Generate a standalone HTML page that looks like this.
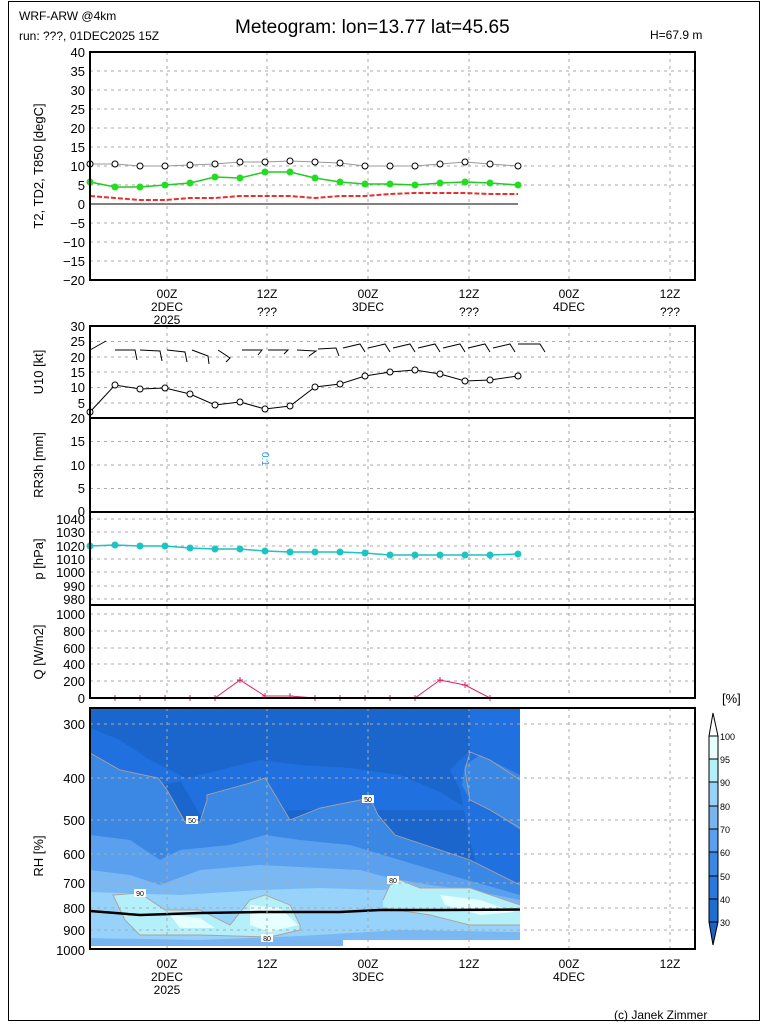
<!DOCTYPE html>
<html><head><meta charset="utf-8"><style>
html,body{margin:0;padding:0;background:#fff;}
svg{display:block;font-family:"Liberation Sans",sans-serif;}
</style></head><body>
<svg width="768" height="1024" viewBox="0 0 768 1024" xmlns="http://www.w3.org/2000/svg">
<rect x="0" y="0" width="768" height="1024" fill="#fff"/>
<rect x="8.5" y="1.5" width="751" height="1019" fill="none" stroke="#000" stroke-width="1"/>
<text x="19" y="20" font-size="12">WRF-ARW @4km</text>
<text x="19" y="40" font-size="12">run: ???, 01DEC2025 15Z</text>
<text x="235" y="33" font-size="19">Meteogram: lon=13.77 lat=45.65</text>
<text x="650" y="39" font-size="12">H=67.9 m</text>

<g stroke="#aaa" stroke-dasharray="3,4" stroke-width="1">
<line x1="167" y1="52" x2="167" y2="280"/><line x1="267" y1="52" x2="267" y2="280"/><line x1="368" y1="52" x2="368" y2="280"/><line x1="469" y1="52" x2="469" y2="280"/><line x1="569" y1="52" x2="569" y2="280"/><line x1="670" y1="52" x2="670" y2="280"/>
<line x1="167" y1="326" x2="167" y2="698"/><line x1="267" y1="326" x2="267" y2="698"/><line x1="368" y1="326" x2="368" y2="698"/><line x1="469" y1="326" x2="469" y2="698"/><line x1="569" y1="326" x2="569" y2="698"/><line x1="670" y1="326" x2="670" y2="698"/>
<line x1="90" y1="71" x2="695" y2="71"/><line x1="90" y1="90" x2="695" y2="90"/><line x1="90" y1="109" x2="695" y2="109"/><line x1="90" y1="128" x2="695" y2="128"/><line x1="90" y1="147" x2="695" y2="147"/><line x1="90" y1="166" x2="695" y2="166"/><line x1="90" y1="185" x2="695" y2="185"/><line x1="90" y1="223" x2="695" y2="223"/><line x1="90" y1="242" x2="695" y2="242"/><line x1="90" y1="261" x2="695" y2="261"/>
<line x1="90" y1="341.5" x2="695" y2="341.5"/><line x1="90" y1="357" x2="695" y2="357"/><line x1="90" y1="372" x2="695" y2="372"/><line x1="90" y1="387.5" x2="695" y2="387.5"/><line x1="90" y1="403" x2="695" y2="403"/>
<line x1="90" y1="441.5" x2="695" y2="441.5"/><line x1="90" y1="465" x2="695" y2="465"/><line x1="90" y1="488.5" x2="695" y2="488.5"/>
<line x1="90" y1="519" x2="695" y2="519"/><line x1="90" y1="532" x2="695" y2="532"/><line x1="90" y1="546" x2="695" y2="546"/><line x1="90" y1="559" x2="695" y2="559"/><line x1="90" y1="572" x2="695" y2="572"/><line x1="90" y1="586" x2="695" y2="586"/><line x1="90" y1="599" x2="695" y2="599"/>
<line x1="90" y1="614" x2="695" y2="614"/><line x1="90" y1="631" x2="695" y2="631"/><line x1="90" y1="648" x2="695" y2="648"/><line x1="90" y1="664" x2="695" y2="664"/><line x1="90" y1="681" x2="695" y2="681"/>
</g>

<line x1="90" y1="204" x2="518" y2="204" stroke="#000" stroke-width="1"/>
<polyline fill="none" stroke="#e83030" stroke-width="2" stroke-dasharray="5,2" points="90,196 115,198 140,200 165,200 190,198 215,198 240,196 265,196 290,196 315,198 340,196 365,196 390,194 415,193 440,193 465,193 490,194 518,194"/>
<polyline fill="none" stroke="#999" stroke-width="1" points="90,164 115,164 140,166 165,166 190,165 215,164 240,162 265,162 290,161 315,162 340,163 365,166 390,166 415,166 440,164 465,162 490,164 518,166"/>
<g fill="#fff" stroke="#000" stroke-width="1">
<circle cx="90" cy="164" r="3"/><circle cx="115" cy="164" r="3"/><circle cx="140" cy="166" r="3"/><circle cx="165" cy="166" r="3"/><circle cx="190" cy="165" r="3"/><circle cx="215" cy="164" r="3"/><circle cx="240" cy="162" r="3"/><circle cx="265" cy="162" r="3"/><circle cx="290" cy="161" r="3"/><circle cx="315" cy="162" r="3"/><circle cx="340" cy="163" r="3"/><circle cx="365" cy="166" r="3"/><circle cx="390" cy="166" r="3"/><circle cx="415" cy="166" r="3"/><circle cx="440" cy="164" r="3"/><circle cx="465" cy="162" r="3"/><circle cx="490" cy="164" r="3"/><circle cx="518" cy="166" r="3"/>
</g>
<polyline fill="none" stroke="#22cc22" stroke-width="1.5" points="90,182 115,187 140,187 165,185 190,183 215,177 240,178 265,172 290,172 315,178 340,182 365,184 390,184 415,185 440,183 465,182 490,183 518,185"/>
<g fill="#22dd22">
<circle cx="90" cy="182" r="3.5"/><circle cx="115" cy="187" r="3.5"/><circle cx="140" cy="187" r="3.5"/><circle cx="165" cy="185" r="3.5"/><circle cx="190" cy="183" r="3.5"/><circle cx="215" cy="177" r="3.5"/><circle cx="240" cy="178" r="3.5"/><circle cx="265" cy="172" r="3.5"/><circle cx="290" cy="172" r="3.5"/><circle cx="315" cy="178" r="3.5"/><circle cx="340" cy="182" r="3.5"/><circle cx="365" cy="184" r="3.5"/><circle cx="390" cy="184" r="3.5"/><circle cx="415" cy="185" r="3.5"/><circle cx="440" cy="183" r="3.5"/><circle cx="465" cy="182" r="3.5"/><circle cx="490" cy="183" r="3.5"/><circle cx="518" cy="185" r="3.5"/>
</g>
<rect x="90" y="52" width="605" height="228" fill="none" stroke="#000" stroke-width="2"/>
<g font-size="13" text-anchor="end">
<text x="85" y="57">40</text><text x="85" y="76">35</text><text x="85" y="95">30</text><text x="85" y="114">25</text><text x="85" y="133">20</text><text x="85" y="152">15</text><text x="85" y="171">10</text><text x="85" y="190">5</text><text x="85" y="209">0</text><text x="85" y="228">−5</text><text x="85" y="247">−10</text><text x="85" y="266">−15</text><text x="85" y="285">−20</text>
</g>
<text transform="translate(43,166) rotate(-90)" font-size="13" text-anchor="middle">T2, TD2, T850 [degC]</text>
<g font-size="12" text-anchor="middle">
<text x="167" y="298">00Z</text><text x="167" y="311">2DEC</text><text x="167" y="324">2025</text>
<text x="267" y="298">12Z</text><text x="267" y="316">???</text>
<text x="368" y="298">00Z</text><text x="368" y="311">3DEC</text>
<text x="469" y="298">12Z</text><text x="469" y="316">???</text>
<text x="569" y="298">00Z</text><text x="569" y="311">4DEC</text>
<text x="670" y="298">12Z</text><text x="670" y="316">???</text>
</g>

<g stroke="#000" stroke-width="1" fill="none">
<polyline points="90,350 106,341"/>
<polyline points="115,350 135,350 137,360"/><polyline points="140,350 160,351 162,361"/><polyline points="167,350 185,352 187,362"/><polyline points="192,350 208,356 209,364"/><polyline points="218,350 230,358 226,362"/>
<polyline points="242,350 262,350 258,355"/><polyline points="268,350 288,350 284,354"/><polyline points="297,350 316,351 309,356"/><polyline points="318,349 336,348 339,356"/><polyline points="343,348 360,344 365,352"/><polyline points="368,348 385,344 390,352"/><polyline points="393,348 410,344 415,352"/><polyline points="418,348 435,344 440,352"/><polyline points="443,348 460,344 465,352"/><polyline points="468,348 485,344 490,352"/><polyline points="493,348 510,344 515,352"/><polyline points="518,344 540,344 545,352"/>
</g>
<polyline fill="none" stroke="#000" stroke-width="1" points="90,412 115,385 140,389 165,388 190,394 215,405 240,402 265,409 290,406 315,387 340,384 365,376 390,372 415,370 440,374 465,381 490,380 518,376"/>
<g fill="#fff" stroke="#000" stroke-width="1">
<circle cx="90" cy="412" r="3"/><circle cx="115" cy="385" r="3"/><circle cx="140" cy="389" r="3"/><circle cx="165" cy="388" r="3"/><circle cx="190" cy="394" r="3"/><circle cx="215" cy="405" r="3"/><circle cx="240" cy="402" r="3"/><circle cx="265" cy="409" r="3"/><circle cx="290" cy="406" r="3"/><circle cx="315" cy="387" r="3"/><circle cx="340" cy="384" r="3"/><circle cx="365" cy="376" r="3"/><circle cx="390" cy="372" r="3"/><circle cx="415" cy="370" r="3"/><circle cx="440" cy="374" r="3"/><circle cx="465" cy="381" r="3"/><circle cx="490" cy="380" r="3"/><circle cx="518" cy="376" r="3"/>
</g>
<rect x="90" y="326" width="605" height="92" fill="none" stroke="#000" stroke-width="2"/>
<g font-size="13" text-anchor="end">
<text x="85" y="331">30</text><text x="85" y="346">25</text><text x="85" y="362">20</text><text x="85" y="377">15</text><text x="85" y="392">10</text><text x="85" y="408">5</text>
</g>
<text transform="translate(43,372) rotate(-90)" font-size="13" text-anchor="middle">U10 [kt]</text>

<rect x="90" y="418" width="605" height="94" fill="none" stroke="#000" stroke-width="2"/>
<g font-size="13" text-anchor="end">
<text x="85" y="423">20</text><text x="85" y="446">15</text><text x="85" y="470">10</text><text x="85" y="493">5</text><text x="85" y="516">0</text>
</g>
<text transform="translate(43,465) rotate(-90)" font-size="13" text-anchor="middle">RR3h [mm]</text>
<text transform="translate(262,452) rotate(90)" font-size="10" fill="#2a9ae6">0.1</text>

<polyline fill="none" stroke="#1cc4c4" stroke-width="1.5" points="90,546 115,545 140,546 165,546 190,548 215,549 240,549 265,551 290,552 315,552 340,552 365,553 390,555 415,555 440,555 465,555 490,555 518,554"/>
<g fill="#1cc4c4">
<circle cx="90" cy="546" r="3.5"/><circle cx="115" cy="545" r="3.5"/><circle cx="140" cy="546" r="3.5"/><circle cx="165" cy="546" r="3.5"/><circle cx="190" cy="548" r="3.5"/><circle cx="215" cy="549" r="3.5"/><circle cx="240" cy="549" r="3.5"/><circle cx="265" cy="551" r="3.5"/><circle cx="290" cy="552" r="3.5"/><circle cx="315" cy="552" r="3.5"/><circle cx="340" cy="552" r="3.5"/><circle cx="365" cy="553" r="3.5"/><circle cx="390" cy="555" r="3.5"/><circle cx="415" cy="555" r="3.5"/><circle cx="440" cy="555" r="3.5"/><circle cx="465" cy="555" r="3.5"/><circle cx="490" cy="555" r="3.5"/><circle cx="518" cy="554" r="3.5"/>
</g>
<rect x="90" y="512" width="605" height="93" fill="none" stroke="#000" stroke-width="2"/>
<g font-size="13" text-anchor="end">
<text x="85" y="524">1040</text><text x="85" y="537">1030</text><text x="85" y="551">1020</text><text x="85" y="564">1010</text><text x="85" y="577">1000</text><text x="85" y="591">990</text><text x="85" y="604">980</text>
</g>
<text transform="translate(43,559) rotate(-90)" font-size="13" text-anchor="middle">p [hPa]</text>

<polyline fill="none" stroke="#e0206a" stroke-width="1" points="90,698 115,698 140,698 165,698 190,698 215,698 240,680 265,696 290,696 315,698 340,698 365,698 390,698 415,698 440,680 465,685 490,698 518,698"/>
<g stroke="#e0206a" stroke-width="1">
<path d="M237,680h6M240,677v6M437,680h6M440,677v6M462,685h6M465,682v6M262,696h6M265,693v6M287,696h6M290,693v6M112,698h6M115,695v6M137,698h6M140,695v6M162,698h6M165,695v6M187,698h6M190,695v6M212,698h6M215,695v6M312,698h6M315,695v6M337,698h6M340,695v6M362,698h6M365,695v6M387,698h6M390,695v6M412,698h6M415,695v6M487,698h6M490,695v6"/>
</g>
<rect x="90" y="605" width="605" height="93" fill="none" stroke="#000" stroke-width="2"/>
<g font-size="13" text-anchor="end">
<text x="85" y="619">1000</text><text x="85" y="636">800</text><text x="85" y="653">600</text><text x="85" y="669">400</text><text x="85" y="686">200</text><text x="85" y="703">0</text>
</g>
<text transform="translate(43,652) rotate(-90)" font-size="13" text-anchor="middle">Q [W/m2]</text>

<!-- RH -->
<rect x="90" y="708" width="430" height="232" fill="#1a66cc"/>
<rect x="90" y="940" width="253" height="6" fill="#78b4f0"/>
<path d="M90,735 L140,745 L190,765 L200,778 L260,770 L290,760 L330,762 L380,770 L420,778 L450,790 L470,800 L440,790 L400,785 L360,780 L300,770 L270,770 L200,790 L190,790 Z" fill="#2070e0" opacity="0"/>
<path d="M90,728 L120,740 L150,760 L180,775 L190,780 L160,785 L90,790 Z" fill="#2070e0"/>
<path d="M180,780 L260,760 L300,765 L350,768 L400,775 L440,792 L470,810 L400,810 L300,810 L200,815 Z" fill="#2070e0"/>
<path d="M470,708 L520,708 L520,900 L480,880 L470,840 L460,790 L450,770 L470,750 Z" fill="#2070e0"/>
<path d="M90,753 L120,770 L158,778 L167,790 L185,822 L200,822 L207,800 L207,795 L250,783 L265,778 L290,820 L320,808 L370,798 L378,815 L395,835 L440,850 L470,860 L520,885 L520,940 L90,940 Z" fill="#3a88e4"/>
<path d="M465,765 L480,755 L520,775 L520,830 L490,810 L470,800 L462,785 Z" fill="#3a88e4"/>
<path d="M90,835 L130,840 L160,860 L180,850 L230,845 L265,835 L300,840 L350,845 L400,860 L450,875 L520,895 L520,940 L90,940 Z" fill="#5aa0ee"/>
<path d="M90,870 L130,875 L160,885 L200,870 L260,865 L320,868 L360,870 L390,878 L430,885 L470,890 L520,900 L520,940 L90,940 Z" fill="#7ab8f4"/>
<path d="M90,892 L180,895 L260,890 L320,888 L380,890 L420,888 L470,895 L520,905 L520,932 L400,930 L300,936 L200,940 L90,938 Z" fill="#96d2fa"/>
<path d="M113,895 L140,893 L150,900 L165,910 L200,910 L230,925 L250,900 L265,895 L290,905 L300,925 L300,930 L270,937 L200,935 L140,935 L125,920 Z" fill="#b4f0fa"/>
<path d="M383,900 L390,885 L400,880 L420,888 L470,888 L520,905 L520,925 L470,925 L430,915 L383,908 Z" fill="#b4f0fa"/>
<path d="M170,915 L200,918 L215,928 L180,928 Z M250,905 L280,908 L298,925 L270,932 L250,925 Z M440,895 L480,900 L515,912 L480,915 L445,905 Z" fill="#e6ffff"/>
<g fill="none" stroke="#b0a098" stroke-width="0.9">
<path d="M90,753 L120,770 L158,778 L167,790 L185,822 L200,822 L207,800 L207,795 L250,783 L265,778 L290,820 L320,808 L370,798 L378,815 L395,835 L440,850 L470,860 L520,885"/>
<path d="M520,780 L490,760 L470,752 L465,770 L470,800 L490,810 L520,828"/>
<path d="M113,895 L140,893 L150,900 L165,910 L200,910 L230,925 L250,900 L265,895 L290,905 L300,925 L300,930 L270,937 L200,935 L140,935 L125,920 Z"/>
<path d="M383,900 L390,885 L400,880 L420,888 L470,888 L520,905 M520,925 L470,925 L430,915 L383,908"/>
</g>
<polyline fill="none" stroke="#000" stroke-width="2.5" points="90,911 140,915 200,913 260,912 300,912 340,912 380,910 440,910 520,909.5"/>
<g font-size="7" text-anchor="middle">
<rect x="186" y="816" width="12" height="8" fill="#fff"/><text x="192" y="823">50</text>
<rect x="362" y="795" width="12" height="8" fill="#fff"/><text x="368" y="802">50</text>
<rect x="387" y="876" width="12" height="8" fill="#fff"/><text x="393" y="883">80</text>
<rect x="134" y="889" width="12" height="8" fill="#fff"/><text x="140" y="896">90</text>
<rect x="261" y="934" width="12" height="8" fill="#fff"/><text x="267" y="941">80</text>
</g>
<g stroke="#aaa" stroke-dasharray="3,4" stroke-width="1">
<line x1="167" y1="708" x2="167" y2="948"/><line x1="267" y1="708" x2="267" y2="948"/><line x1="368" y1="708" x2="368" y2="948"/><line x1="469" y1="708" x2="469" y2="948"/><line x1="569" y1="708" x2="569" y2="948"/><line x1="670" y1="708" x2="670" y2="948"/>
<line x1="90" y1="724" x2="695" y2="724"/><line x1="90" y1="778" x2="695" y2="778"/><line x1="90" y1="820" x2="695" y2="820"/><line x1="90" y1="854" x2="695" y2="854"/><line x1="90" y1="883" x2="695" y2="883"/><line x1="90" y1="908" x2="695" y2="908"/><line x1="90" y1="930" x2="695" y2="930"/>
</g>
<rect x="90" y="708" width="605" height="241" fill="none" stroke="#000" stroke-width="2"/>
<g font-size="13" text-anchor="end">
<text x="85" y="729">300</text><text x="85" y="783">400</text><text x="85" y="825">500</text><text x="85" y="859">600</text><text x="85" y="888">700</text><text x="85" y="913">800</text><text x="85" y="935">900</text><text x="85" y="955">1000</text>
</g>
<text transform="translate(43,856) rotate(-90)" font-size="13" text-anchor="middle">RH [%]</text>
<g font-size="12" text-anchor="middle">
<text x="167" y="968">00Z</text><text x="167" y="981">2DEC</text><text x="167" y="994">2025</text>
<text x="267" y="968">12Z</text>
<text x="368" y="968">00Z</text><text x="368" y="981">3DEC</text>
<text x="469" y="968">12Z</text>
<text x="569" y="968">00Z</text><text x="569" y="981">4DEC</text>
<text x="670" y="968">12Z</text>
</g>

<g stroke="#000" stroke-width="1">
<polygon points="713,713 709,736 718,736" fill="#fff"/>
<rect x="709" y="736" width="9" height="23" fill="#e6ffff"/>
<rect x="709" y="759" width="9" height="23" fill="#b4f0fa"/>
<rect x="709" y="782" width="9" height="24" fill="#96d2fa"/>
<rect x="709" y="806" width="9" height="23" fill="#78b4f0"/>
<rect x="709" y="829" width="9" height="23" fill="#5aa0ee"/>
<rect x="709" y="852" width="9" height="24" fill="#3a88e4"/>
<rect x="709" y="876" width="9" height="23" fill="#2878e0"/>
<rect x="709" y="899" width="9" height="23" fill="#1e6ed2"/>
<polygon points="709,922 718,922 713,945" fill="#1a62c6"/>
</g>
<g font-size="9">
<text x="720" y="740">100</text><text x="720" y="763">95</text><text x="720" y="786">90</text><text x="720" y="810">80</text><text x="720" y="833">70</text><text x="720" y="856">60</text><text x="720" y="880">50</text><text x="720" y="903">40</text><text x="720" y="926">30</text>
</g>
<text x="722" y="703" font-size="13">[%]</text>
<text x="614" y="1019" font-size="12">(c) Janek Zimmer</text>
</svg>
</body></html>
